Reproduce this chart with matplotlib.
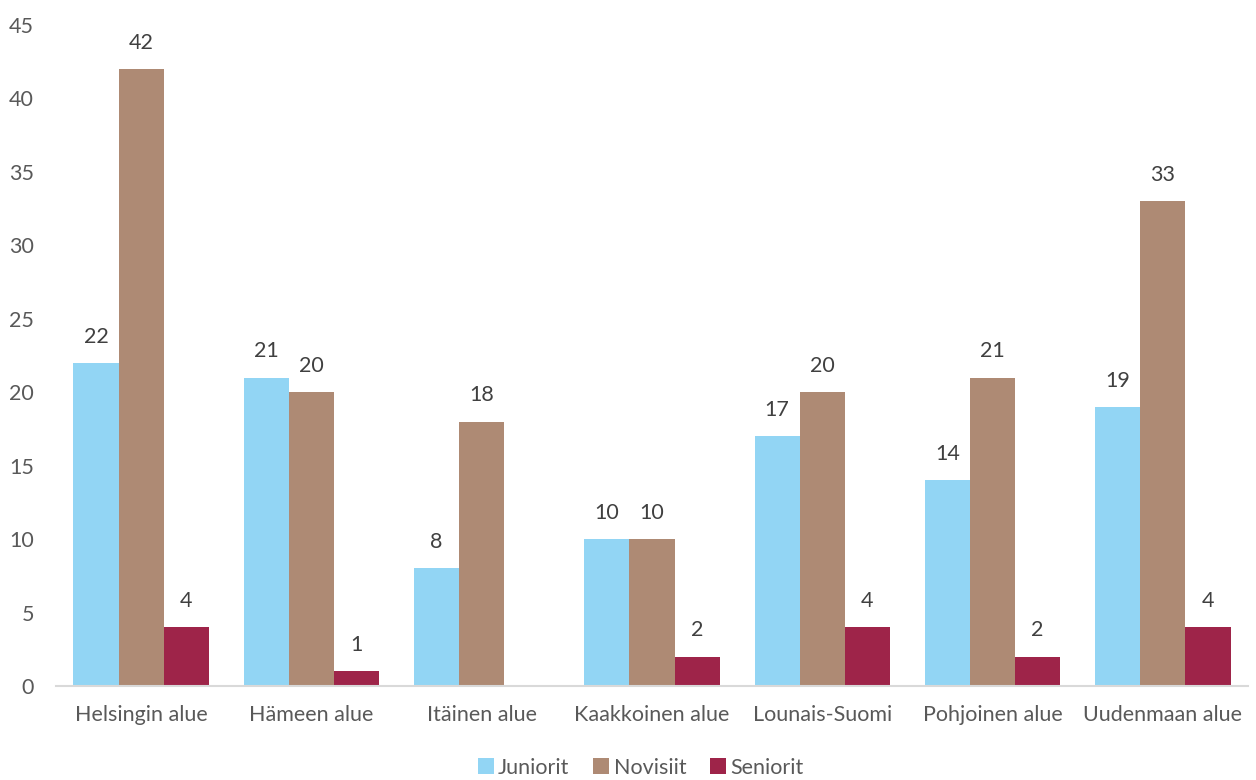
import matplotlib.pyplot as plt
import numpy as np

regions = ['Helsingin alue', 'Hämeen alue', 'Itäinen alue', 'Kaakkoinen alue',
           'Lounais-Suomi', 'Pohjoinen alue', 'Uudenmaan alue']
juniorit = [22, 21, 8, 10, 17, 14, 19]
novisiit = [42, 20, 18, 10, 20, 21, 33]
seniorit = [4, 1, 0, 2, 4, 2, 4]

series = [('Juniorit', juniorit, '#92D5F4'),
          ('Novisiit', novisiit, '#AE8A74'),
          ('Seniorit', seniorit, '#9E2449')]

plt.rcParams['font.family'] = ['Lato', 'DejaVu Sans']
txt = '#595959'
fs = 15.5

fig = plt.figure(figsize=(12.56, 7.8), dpi=100)
ax = fig.add_axes([0.0446, 0.1205, 0.949, 0.8475])

x = np.arange(len(regions))
w = 0.265
for i, (name, vals, col) in enumerate(series):
    pos = x + (i - 1) * w
    ax.bar(pos, vals, w, color=col, label=name)
    for p, v in zip(pos, vals):
        if v > 0:
            ax.text(p, v + 1.1, str(v), ha='center', va='bottom', fontsize=fs, color='#404040')

ax.set_xlim(-0.5, len(regions) - 0.5)
ax.set_ylim(0, 45)
ax.set_yticks(range(0, 46, 5))
ax.set_xticks(x)
ax.set_xticklabels(regions)
ax.tick_params(axis='both', length=0, labelsize=fs, labelcolor=txt)
ax.tick_params(axis='x', pad=14)
ax.tick_params(axis='y', pad=16)
for s in ['top', 'right', 'left']:
    ax.spines[s].set_visible(False)
ax.spines['bottom'].set_color('#D9D9D9')
ax.spines['bottom'].set_linewidth(1.5)

leg = fig.legend(loc='lower center', ncol=3, frameon=False, bbox_to_anchor=(0.51, -0.022),
                 fontsize=fs, handlelength=0.75, handleheight=0.75, handletextpad=0.2,
                 columnspacing=1.1)
for t in leg.get_texts():
    t.set_color(txt)

fig.savefig('out.png', dpi=100)
